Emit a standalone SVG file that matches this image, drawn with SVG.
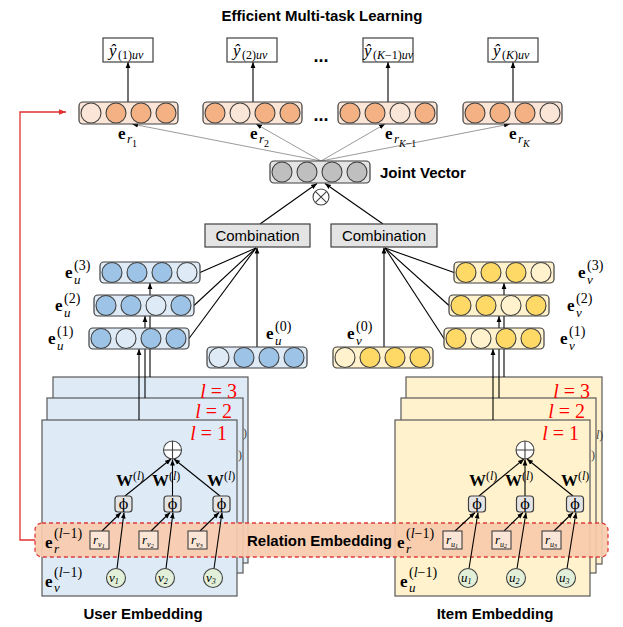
<svg xmlns="http://www.w3.org/2000/svg" width="623" height="627" viewBox="0 0 623 627">
<style>
  .bar{stroke:#404040;stroke-width:1.2}
  .cc{stroke:#404040;stroke-width:1.1}
  .o{fill:#F4B183}.ol{fill:#FBE5D6}
  .b{fill:#9DC3E6}.bl{fill:#DEEBF7}
  .y{fill:#FFD966}.yl{fill:#FFF2CC}
  .g{fill:#BFBFBF}.gb{fill:#E4E4E4}
  .ln{stroke:#000;stroke-width:1.1;fill:none}
  .gl{stroke:#808080;stroke-width:0.8;fill:none}
  .box{fill:#fff;stroke:#404040;stroke-width:1.2}
  .cmb{fill:#E4E4E4;stroke:#404040;stroke-width:1.2}
  .phi{fill:#E4E4E4;stroke:#404040;stroke-width:1.2}
  .rb{fill:#FBE5D6;stroke:#404040;stroke-width:1.1}
  .vn{fill:#E2F0D9;stroke:#404040;stroke-width:1.1}
  .pb{fill:#DEEBF7;stroke:#595959;stroke-width:1.2}
  .py{fill:#FFF2CC;stroke:#595959;stroke-width:1.2}
  .m{font-family:"Liberation Serif","DejaVu Serif",serif;fill:#000}
  .eb{font-weight:bold;font-size:17px}
  .sb{font-size:13px;font-style:italic}
  .sp{font-size:14px}
  .it{font-style:italic}
  .ph{font-family:"DejaVu Serif","Liberation Serif",serif;font-size:14px;fill:#000}
  .sans{font-family:"Liberation Sans",Arial,sans-serif;fill:#000}
  .hd{font-weight:bold;font-size:15px}
  .lv{font-family:"Liberation Serif","DejaVu Serif",serif;font-size:20px;fill:#FF0000}
  .gh{font-family:"Liberation Serif","DejaVu Serif",serif;font-size:12px;fill:#404040}
</style>
<defs>
  <marker id="ah" viewBox="0 0 10 10" refX="10" refY="5" markerWidth="6" markerHeight="6" markerUnits="userSpaceOnUse" orient="auto">
    <path d="M0,1 L10,5 L0,9 z" fill="#000"/>
  </marker>
  <marker id="ahr" viewBox="0 0 10 10" refX="10" refY="5" markerWidth="7" markerHeight="7" markerUnits="userSpaceOnUse" orient="auto">
    <path d="M0,1 L10,5 L0,9 z" fill="#E03030"/>
  </marker>
</defs>

<rect width="623" height="627" fill="#fff"/>

<!-- title -->
<text class="sans hd" x="322" y="21" text-anchor="middle">Efficient Multi-task Learning</text>

<!-- user-side layer panels (back to front) -->
<g id="user-panels">
  <rect class="pb" x="53" y="377" width="195" height="186"/>
  <rect class="pb" x="47" y="398" width="196" height="175"/>
  <rect class="pb" x="42" y="420" width="195" height="176"/>
  <text class="lv" x="237" y="398" text-anchor="end"><tspan class="it">l</tspan> = 3</text>
  <text class="lv" x="232" y="418" text-anchor="end"><tspan class="it">l</tspan> = 2</text>
  <text class="lv" x="227" y="440" text-anchor="end"><tspan class="it">l</tspan> = 1</text>
  <text class="gh" x="243" y="437">)</text>
  <text class="gh" x="238" y="459">)</text>
</g>

<!-- item-side layer panels (back to front) -->
<g id="item-panels">
  <rect class="py" x="406" y="377" width="196" height="187"/>
  <rect class="py" x="401" y="398" width="195" height="175"/>
  <rect class="py" x="395" y="420" width="195" height="176"/>
  <text class="lv" x="590" y="398" text-anchor="end"><tspan class="it">l</tspan> = 3</text>
  <text class="lv" x="585" y="418" text-anchor="end"><tspan class="it">l</tspan> = 2</text>
  <text class="lv" x="579" y="440" text-anchor="end"><tspan class="it">l</tspan> = 1</text>
  <text class="gh" x="596" y="439"><tspan class="it">l</tspan>)</text>
  <text class="gh" x="591" y="459">)</text>
</g>

<!-- relation embedding band -->
<g id="relation-band">
  <rect x="35" y="523" width="573" height="34" rx="7" fill="#F8CBAD" fill-opacity="0.92" stroke="#E03C3C" stroke-width="1.3" stroke-dasharray="4 3"/>
  <text class="sans hd" x="392" y="546" text-anchor="end">Relation Embedding</text>
</g>

<!-- connectors -->
<g id="connectors">
  <!-- feedback from relation embedding to task vectors -->
  <path d="M35,540 H20 V112 H66" fill="none" stroke="#E03030" stroke-width="1.3" marker-end="url(#ahr)"/>
  <!-- task vectors to predictions -->
  <line class="ln" x1="128" y1="102" x2="128" y2="62" marker-end="url(#ah)"/>
  <line class="ln" x1="253" y1="102" x2="253" y2="62" marker-end="url(#ah)"/>
  <line class="ln" x1="388" y1="102" x2="388" y2="62" marker-end="url(#ah)"/>
  <line class="ln" x1="513" y1="102" x2="513" y2="62" marker-end="url(#ah)"/>
  <!-- joint vector to task vectors -->
  <line class="gl" x1="321" y1="161" x2="132" y2="124" marker-end="url(#ah)"/>
  <line class="gl" x1="321" y1="161" x2="256" y2="124" marker-end="url(#ah)"/>
  <line class="gl" x1="321" y1="161" x2="385" y2="124" marker-end="url(#ah)"/>
  <line class="gl" x1="321" y1="161" x2="510" y2="124" marker-end="url(#ah)"/>
  <!-- combinations to joint vector -->
  <line class="ln" x1="260" y1="224" x2="317" y2="183.5" marker-end="url(#ah)"/>
  <line class="ln" x1="383" y1="224" x2="325" y2="183.5" marker-end="url(#ah)"/>
  <!-- user layer outputs to combination -->
  <line class="ln" x1="200" y1="272.5" x2="256" y2="248"/>
  <line class="ln" x1="194" y1="305.5" x2="256" y2="248"/>
  <line class="ln" x1="189" y1="338.5" x2="256" y2="248"/>
  <line class="ln" x1="257" y1="347" x2="257" y2="247.5" marker-end="url(#ah)"/>
  <!-- item layer outputs to combination -->
  <line class="ln" x1="454" y1="272.5" x2="385" y2="248"/>
  <line class="ln" x1="449" y1="305.5" x2="385" y2="248"/>
  <line class="ln" x1="444" y1="338.5" x2="385" y2="248"/>
  <line class="ln" x1="384" y1="347" x2="384" y2="247.5" marker-end="url(#ah)"/>
  <!-- panels to layer vectors -->
  <line class="ln" x1="139" y1="420" x2="139" y2="349" marker-end="url(#ah)"/>
  <line class="ln" x1="145" y1="398" x2="145" y2="316" marker-end="url(#ah)"/>
  <line class="ln" x1="150" y1="377" x2="150" y2="283" marker-end="url(#ah)"/>
  <line class="ln" x1="493" y1="420" x2="493" y2="349" marker-end="url(#ah)"/>
  <line class="ln" x1="499" y1="398" x2="499" y2="316" marker-end="url(#ah)"/>
  <line class="ln" x1="504" y1="377" x2="504" y2="283" marker-end="url(#ah)"/>
  <!-- user aggregation -->
  <line class="ln" x1="125" y1="496" x2="171" y2="459" marker-end="url(#ah)"/>
  <line class="ln" x1="172.5" y1="496" x2="172.5" y2="459.5" marker-end="url(#ah)"/>
  <line class="ln" x1="220" y1="496" x2="174" y2="459" marker-end="url(#ah)"/>
  <line class="ln" x1="102" y1="531" x2="121" y2="512.5" marker-end="url(#ah)"/>
  <line class="ln" x1="151" y1="531" x2="170" y2="512.5" marker-end="url(#ah)"/>
  <line class="ln" x1="200" y1="531" x2="219" y2="512.5" marker-end="url(#ah)"/>
  <line class="ln" x1="117" y1="568.5" x2="124" y2="512.5" marker-end="url(#ah)"/>
  <line class="ln" x1="166" y1="568.5" x2="173" y2="512.5" marker-end="url(#ah)"/>
  <line class="ln" x1="214" y1="568.5" x2="222" y2="512.5" marker-end="url(#ah)"/>
  <!-- item aggregation -->
  <line class="ln" x1="479" y1="496" x2="524" y2="459" marker-end="url(#ah)"/>
  <line class="ln" x1="525" y1="496" x2="525" y2="459.5" marker-end="url(#ah)"/>
  <line class="ln" x1="573" y1="496" x2="527" y2="459" marker-end="url(#ah)"/>
  <line class="ln" x1="455" y1="531" x2="475" y2="512.5" marker-end="url(#ah)"/>
  <line class="ln" x1="504" y1="531" x2="523" y2="512.5" marker-end="url(#ah)"/>
  <line class="ln" x1="554" y1="531" x2="573" y2="512.5" marker-end="url(#ah)"/>
  <line class="ln" x1="469" y1="568.5" x2="478" y2="512.5" marker-end="url(#ah)"/>
  <line class="ln" x1="517" y1="568.5" x2="526" y2="512.5" marker-end="url(#ah)"/>
  <line class="ln" x1="567" y1="568.5" x2="576" y2="512.5" marker-end="url(#ah)"/>
</g>

<!-- prediction outputs -->
<g id="out-1">
  <rect class="box" x="103" y="38" width="50" height="24"/>
  <text class="m it" x="109" y="56" font-size="17">ŷ</text>
  <text class="m" x="118" y="59" font-size="12">(1)<tspan class="it">uv</tspan></text>
</g>
<g id="out-2">
  <rect class="box" x="227" y="38" width="50" height="24"/>
  <text class="m it" x="233" y="56" font-size="17">ŷ</text>
  <text class="m" x="242" y="59" font-size="12">(2)<tspan class="it">uv</tspan></text>
</g>
<g id="out-k1">
  <rect class="box" x="363" y="38" width="50" height="24"/>
  <text class="m it" x="364" y="56" font-size="17">ŷ</text>
  <text class="m" x="373" y="59" font-size="12">(<tspan class="it">K</tspan>−1)<tspan class="it">uv</tspan></text>
</g>
<g id="out-k">
  <rect class="box" x="488" y="38" width="50" height="24"/>
  <text class="m it" x="493" y="56" font-size="17">ŷ</text>
  <text class="m" x="502" y="59" font-size="12">(<tspan class="it">K</tspan>)<tspan class="it">uv</tspan></text>
</g>
<text class="sans" x="321" y="62" text-anchor="middle" font-size="18" font-weight="bold">...</text>
<text class="sans" x="321" y="121" text-anchor="middle" font-size="18" font-weight="bold">...</text>

<!-- task relation vectors -->
<g id="task-1">
  <rect class="bar ol" x="79" y="102" width="99" height="22" rx="4"/>
  <circle class="cc ol" cx="91" cy="113" r="10"/><circle class="cc o" cx="116" cy="113" r="10"/><circle class="cc o" cx="141" cy="113" r="10"/><circle class="cc o" cx="166" cy="113" r="10"/>
  <text class="m eb" x="118" y="139">e</text><text class="m sb" x="127" y="143">r</text><text class="m" x="132" y="147" font-size="10">1</text>
</g>
<g id="task-2">
  <rect class="bar ol" x="203" y="102" width="99" height="22" rx="4"/>
  <circle class="cc o" cx="215" cy="113" r="10"/><circle class="cc ol" cx="240" cy="113" r="10"/><circle class="cc o" cx="265" cy="113" r="10"/><circle class="cc o" cx="290" cy="113" r="10"/>
  <text class="m eb" x="250" y="139">e</text><text class="m sb" x="259" y="143">r</text><text class="m" x="264" y="147" font-size="10">2</text>
</g>
<g id="task-k1">
  <rect class="bar ol" x="338" y="102" width="99" height="22" rx="4"/>
  <circle class="cc o" cx="350" cy="113" r="10"/><circle class="cc o" cx="375" cy="113" r="10"/><circle class="cc ol" cx="400" cy="113" r="10"/><circle class="cc o" cx="425" cy="113" r="10"/>
  <text class="m eb" x="385" y="139">e</text><text class="m sb" x="394" y="143">r</text><text class="m" x="399" y="147" font-size="10"><tspan class="it">K</tspan>−1</text>
</g>
<g id="task-k">
  <rect class="bar ol" x="463" y="102" width="99" height="22" rx="4"/>
  <circle class="cc o" cx="475" cy="113" r="10"/><circle class="cc o" cx="500" cy="113" r="10"/><circle class="cc o" cx="525" cy="113" r="10"/><circle class="cc ol" cx="550" cy="113" r="10"/>
  <text class="m eb" x="509" y="139">e</text><text class="m sb" x="518" y="143">r</text><text class="m it" x="523" y="147" font-size="10">K</text>
</g>

<!-- joint vector -->
<g id="joint-vector">
  <rect class="bar gb" x="270" y="161" width="100" height="22" rx="4"/>
  <circle class="cc g" cx="282" cy="172" r="10"/><circle class="cc g" cx="307" cy="172" r="10"/><circle class="cc g" cx="332" cy="172" r="10"/><circle class="cc g" cx="357" cy="172" r="10"/>
  <text class="sans hd" x="380" y="178">Joint Vector</text>
</g>
<g id="otimes">
  <circle cx="321" cy="197" r="8" fill="#fff" stroke="#404040" stroke-width="1.1"/>
  <path d="M315.3,191.3 L326.7,202.7 M326.7,191.3 L315.3,202.7" stroke="#404040" stroke-width="1.1"/>
</g>

<!-- combination blocks -->
<g id="combination-user">
  <rect class="cmb" x="205" y="224" width="105" height="23"/>
  <text class="sans" x="257.5" y="241" text-anchor="middle" font-size="15">Combination</text>
</g>
<g id="combination-item">
  <rect class="cmb" x="331" y="224" width="106" height="23"/>
  <text class="sans" x="384" y="241" text-anchor="middle" font-size="15">Combination</text>
</g>

<!-- user layer embeddings -->
<g id="user-e3">
  <rect class="bar bl" x="100" y="262" width="100" height="21" rx="4"/>
  <circle class="cc b" cx="112" cy="272.5" r="10"/><circle class="cc b" cx="137" cy="272.5" r="10"/><circle class="cc b" cx="162" cy="272.5" r="10"/><circle class="cc bl" cx="187" cy="272.5" r="10"/>
  <text class="m eb" x="65" y="278">e</text><text class="m sb" x="74" y="284">u</text><text class="m sp" x="74" y="270">(3)</text>
</g>
<g id="user-e2">
  <rect class="bar bl" x="94" y="295" width="100" height="21" rx="4"/>
  <circle class="cc b" cx="106" cy="305.5" r="10"/><circle class="cc b" cx="131" cy="305.5" r="10"/><circle class="cc bl" cx="156" cy="305.5" r="10"/><circle class="cc b" cx="181" cy="305.5" r="10"/>
  <text class="m eb" x="55" y="311">e</text><text class="m sb" x="64" y="317">u</text><text class="m sp" x="64" y="303">(2)</text>
</g>
<g id="user-e1">
  <rect class="bar bl" x="89" y="328" width="100" height="21" rx="4"/>
  <circle class="cc b" cx="101" cy="338.5" r="10"/><circle class="cc bl" cx="126" cy="338.5" r="10"/><circle class="cc b" cx="151" cy="338.5" r="10"/><circle class="cc b" cx="176" cy="338.5" r="10"/>
  <text class="m eb" x="48" y="344">e</text><text class="m sb" x="57" y="350">u</text><text class="m sp" x="57" y="336">(1)</text>
</g>
<g id="user-e0">
  <rect class="bar bl" x="207" y="347" width="100" height="21" rx="4"/>
  <circle class="cc bl" cx="219" cy="357.5" r="10"/><circle class="cc b" cx="244" cy="357.5" r="10"/><circle class="cc b" cx="269" cy="357.5" r="10"/><circle class="cc b" cx="294" cy="357.5" r="10"/>
  <text class="m eb" x="266" y="339">e</text><text class="m sb" x="275" y="345">u</text><text class="m sp" x="275" y="331">(0)</text>
</g>

<!-- item layer embeddings -->
<g id="item-e3">
  <rect class="bar yl" x="454" y="262" width="100" height="21" rx="4"/>
  <circle class="cc y" cx="466" cy="272.5" r="10"/><circle class="cc y" cx="491" cy="272.5" r="10"/><circle class="cc y" cx="516" cy="272.5" r="10"/><circle class="cc yl" cx="541" cy="272.5" r="10"/>
  <text class="m eb" x="578" y="278">e</text><text class="m sb" x="587" y="284">v</text><text class="m sp" x="587" y="270">(3)</text>
</g>
<g id="item-e2">
  <rect class="bar yl" x="449" y="295" width="100" height="21" rx="4"/>
  <circle class="cc y" cx="461" cy="305.5" r="10"/><circle class="cc y" cx="486" cy="305.5" r="10"/><circle class="cc yl" cx="511" cy="305.5" r="10"/><circle class="cc y" cx="536" cy="305.5" r="10"/>
  <text class="m eb" x="567" y="311">e</text><text class="m sb" x="576" y="317">v</text><text class="m sp" x="576" y="303">(2)</text>
</g>
<g id="item-e1">
  <rect class="bar yl" x="444" y="328" width="100" height="21" rx="4"/>
  <circle class="cc y" cx="456" cy="338.5" r="10"/><circle class="cc yl" cx="481" cy="338.5" r="10"/><circle class="cc y" cx="506" cy="338.5" r="10"/><circle class="cc y" cx="531" cy="338.5" r="10"/>
  <text class="m eb" x="560" y="344">e</text><text class="m sb" x="569" y="350">v</text><text class="m sp" x="569" y="336">(1)</text>
</g>
<g id="item-e0">
  <rect class="bar yl" x="333" y="347" width="100" height="21" rx="4"/>
  <circle class="cc yl" cx="345" cy="357.5" r="10"/><circle class="cc y" cx="370" cy="357.5" r="10"/><circle class="cc y" cx="395" cy="357.5" r="10"/><circle class="cc y" cx="420" cy="357.5" r="10"/>
  <text class="m eb" x="347" y="339">e</text><text class="m sb" x="356" y="345">v</text><text class="m sp" x="356" y="331">(0)</text>
</g>

<!-- user aggregation layer -->
<g id="user-layer">
  <circle cx="172.5" cy="450" r="9" fill="#fff" stroke="#404040" stroke-width="1.1"/>
  <path d="M163.5,450 H181.5 M172.5,441 V459" stroke="#404040" stroke-width="1.1"/>
  <rect class="phi" x="115" y="496" width="17" height="16" rx="3"/>
  <rect class="phi" x="164" y="496" width="17" height="16" rx="3"/>
  <rect class="phi" x="213" y="496" width="17" height="16" rx="3"/>
  <text class="ph" x="123.5" y="509" text-anchor="middle">ϕ</text>
  <text class="ph" x="172.5" y="509" text-anchor="middle">ϕ</text>
  <text class="ph" x="221.5" y="509" text-anchor="middle">ϕ</text>
  <text class="m" x="116" y="486" font-size="17" font-weight="bold">W<tspan font-size="12" font-weight="normal" dy="-6">(<tspan class="it">l</tspan>)</tspan></text>
  <text class="m" x="152" y="486" font-size="17" font-weight="bold">W<tspan font-size="12" font-weight="normal" dy="-6">(<tspan class="it">l</tspan>)</tspan></text>
  <text class="m" x="207" y="486" font-size="17" font-weight="bold">W<tspan font-size="12" font-weight="normal" dy="-6">(<tspan class="it">l</tspan>)</tspan></text>
  <rect class="rb" x="90" y="531" width="19" height="18"/>
  <rect class="rb" x="139" y="531" width="19" height="18"/>
  <rect class="rb" x="188" y="531" width="19" height="18"/>
  <text class="m it" x="93" y="544" font-size="13">r<tspan font-size="8" dy="3">v<tspan font-size="6" dy="1">1</tspan></tspan></text>
  <text class="m it" x="142" y="544" font-size="13">r<tspan font-size="8" dy="3">v<tspan font-size="6" dy="1">2</tspan></tspan></text>
  <text class="m it" x="191" y="544" font-size="13">r<tspan font-size="8" dy="3">v<tspan font-size="6" dy="1">3</tspan></tspan></text>
  <circle class="vn" cx="116" cy="578" r="9.5"/>
  <circle class="vn" cx="165" cy="578" r="9.5"/>
  <circle class="vn" cx="213" cy="578" r="9.5"/>
  <text class="m it" x="109" y="582" font-size="13">v<tspan font-size="8" dy="2">1</tspan></text>
  <text class="m it" x="158" y="582" font-size="13">v<tspan font-size="8" dy="2">2</tspan></text>
  <text class="m it" x="206" y="582" font-size="13">v<tspan font-size="8" dy="2">3</tspan></text>
  <text class="m eb" x="45" y="548">e</text><text class="m sb" x="54" y="553">r</text><text class="m sp" x="54" y="538">(<tspan class="it">l</tspan>−1)</text>
  <text class="m eb" x="45" y="587">e</text><text class="m sb" x="54" y="592">v</text><text class="m sp" x="54" y="577">(<tspan class="it">l</tspan>−1)</text>
</g>

<!-- item aggregation layer -->
<g id="item-layer">
  <circle cx="525" cy="450" r="9" fill="#fff" stroke="#404040" stroke-width="1.1"/>
  <path d="M516,450 H534 M525,441 V459" stroke="#404040" stroke-width="1.1"/>
  <rect class="phi" x="468.5" y="496" width="17" height="16" rx="3"/>
  <rect class="phi" x="516.5" y="496" width="17" height="16" rx="3"/>
  <rect class="phi" x="566.5" y="496" width="17" height="16" rx="3"/>
  <text class="ph" x="477" y="509" text-anchor="middle">ϕ</text>
  <text class="ph" x="525" y="509" text-anchor="middle">ϕ</text>
  <text class="ph" x="575" y="509" text-anchor="middle">ϕ</text>
  <text class="m" x="469" y="486" font-size="17" font-weight="bold">W<tspan font-size="12" font-weight="normal" dy="-6">(<tspan class="it">l</tspan>)</tspan></text>
  <text class="m" x="505" y="486" font-size="17" font-weight="bold">W<tspan font-size="12" font-weight="normal" dy="-6">(<tspan class="it">l</tspan>)</tspan></text>
  <text class="m" x="561" y="486" font-size="17" font-weight="bold">W<tspan font-size="12" font-weight="normal" dy="-6">(<tspan class="it">l</tspan>)</tspan></text>
  <rect class="rb" x="443" y="531" width="19" height="18"/>
  <rect class="rb" x="492" y="531" width="19" height="18"/>
  <rect class="rb" x="542" y="531" width="19" height="18"/>
  <text class="m it" x="446" y="544" font-size="13">r<tspan font-size="8" dy="3">u<tspan font-size="6" dy="1">1</tspan></tspan></text>
  <text class="m it" x="495" y="544" font-size="13">r<tspan font-size="8" dy="3">u<tspan font-size="6" dy="1">2</tspan></tspan></text>
  <text class="m it" x="545" y="544" font-size="13">r<tspan font-size="8" dy="3">u<tspan font-size="6" dy="1">3</tspan></tspan></text>
  <circle class="vn" cx="468" cy="578" r="9.5"/>
  <circle class="vn" cx="516" cy="578" r="9.5"/>
  <circle class="vn" cx="566" cy="578" r="9.5"/>
  <text class="m it" x="461" y="582" font-size="13">u<tspan font-size="8" dy="2">1</tspan></text>
  <text class="m it" x="509" y="582" font-size="13">u<tspan font-size="8" dy="2">2</tspan></text>
  <text class="m it" x="559" y="582" font-size="13">u<tspan font-size="8" dy="2">3</tspan></text>
  <text class="m eb" x="397" y="548">e</text><text class="m sb" x="406" y="553">r</text><text class="m sp" x="406" y="538">(<tspan class="it">l</tspan>−1)</text>
  <text class="m eb" x="400" y="587">e</text><text class="m sb" x="409" y="592">u</text><text class="m sp" x="409" y="577">(<tspan class="it">l</tspan>−1)</text>
</g>

<!-- section captions -->
<text class="sans hd" x="143" y="619" text-anchor="middle">User Embedding</text>
<text class="sans hd" x="495" y="619" text-anchor="middle">Item Embedding</text>
</svg>
